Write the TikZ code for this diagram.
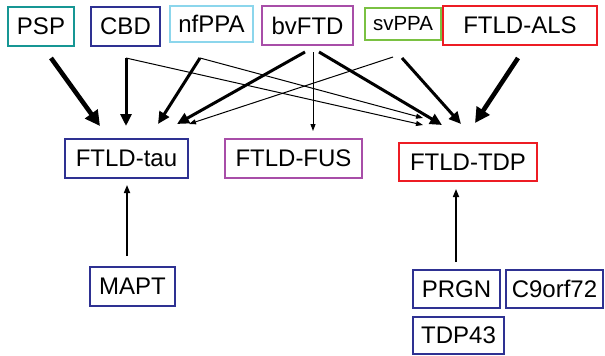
\documentclass[tikz,border=0pt]{standalone}
\usepackage{fontspec}
\setmainfont{Liberation Sans}
\usetikzlibrary{arrows.meta}

\definecolor{tealc}{RGB}{22,150,148}
\definecolor{bluec}{RGB}{46,49,146}
\definecolor{skyc}{RGB}{140,214,236}
\definecolor{purplec}{RGB}{168,78,168}
\definecolor{greenc}{RGB}{122,193,66}
\definecolor{redc}{RGB}{237,28,36}

\tikzset{
  box/.style={draw, line width=2pt, fill=white, inner sep=0pt, text=black,
    font=\fontsize{24}{28}\selectfont},
  heavy/.style={line width=4.6pt, -{Triangle[length=15pt,width=15pt]}},
  medium/.style={line width=3pt, -{Triangle[length=12pt,width=11pt]}},
  light/.style={line width=1pt, -{Triangle[length=7pt,width=5pt]}},
  upward/.style={line width=1.6pt, -{Triangle[length=8pt,width=6pt]}},
}

\begin{document}
\begin{tikzpicture}[x=1pt,y=-1pt]
\useasboundingbox (0,0) rectangle (605,356);

% clinical syndromes (top row)
\node[box, draw=tealc,   minimum width=66pt,  minimum height=39pt] (psp)  at (41,26.5)   {PSP};
\node[box, draw=bluec,   minimum width=69pt,  minimum height=39pt] (cbd)  at (125.5,26.5) {CBD};
\node[box, draw=skyc,    minimum width=83pt,  minimum height=36pt] (nfppa) at (211.5,24)  {nfPPA};
\node[box, draw=purplec, minimum width=91pt,  minimum height=39pt] (bvftd) at (307.5,25.5) {bvFTD};
\node[box, draw=greenc,  minimum width=76pt,  minimum height=32pt,
      font=\fontsize{20.5}{24}\selectfont] (svppa) at (403,24) {svPPA};
\node[box, draw=redc,    minimum width=154pt, minimum height=39pt] (als)  at (520,25.5)  {FTLD-ALS};

% pathologies (middle row)
\node[box, draw=bluec,   minimum width=123pt, minimum height=39pt] (tau) at (126.5,158.5) {FTLD-tau};
\node[box, draw=purplec, minimum width=137pt, minimum height=39pt] (fus) at (293.5,158.5) {FTLD-FUS};
\node[box, draw=redc,    minimum width=138pt, minimum height=38pt] (tdp) at (468,162)     {FTLD-TDP};

% genes (bottom)
\node[box, draw=bluec, minimum width=85pt, minimum height=39pt] (mapt)  at (132.5,286.5) {MAPT};
\node[box, draw=bluec, minimum width=87pt, minimum height=38pt] (prgn)  at (456.5,289)   {PRGN};
\node[box, draw=bluec, minimum width=97pt, minimum height=38pt] (c9)    at (554.5,289)   {C9orf72};
\node[box, draw=bluec, minimum width=91pt, minimum height=37pt] (tdp43) at (458.5,335.5)  {TDP43};

% connector end points
\coordinate (psp-o)   at (51,58);
\coordinate (cbd-o)   at (126,58);
\coordinate (nfppa-o) at (200,58);
\coordinate (bv-l)    at (305,52);
\coordinate (bv-m)    at (313,52);
\coordinate (bv-r)    at (319,52);
\coordinate (sv-l)    at (393,57);
\coordinate (sv-r)    at (402,58);
\coordinate (als-o)   at (518,58);
\coordinate (tau-1)   at (100,126);
\coordinate (tau-2)   at (126,126);
\coordinate (tau-3)   at (158,124);
\coordinate (tau-4)   at (177,124);
\coordinate (tau-5)   at (189,124);
\coordinate (fus-1)   at (313,131);
\coordinate (tdp-1)   at (423,118);
\coordinate (tdp-2)   at (423,125);
\coordinate (tdp-3)   at (442,125);
\coordinate (tdp-4)   at (461,124);
\coordinate (tdp-5)   at (475,123);
\coordinate (mapt-o)  at (127,256);
\coordinate (tau-b)   at (127,185);
\coordinate (prgn-o)  at (456,262);
\coordinate (tdp-b)   at (456,189);

% syndrome -> pathology
\draw[heavy]  (psp-o)   -- (tau-1);
\draw[medium] (cbd-o)   -- (tau-2);
\draw[light]  (cbd-o)   -- (tdp-2);
\draw[medium] (nfppa-o) -- (tau-3);
\draw[light]  (nfppa-o) -- (tdp-1);
\draw[medium] (bv-l)    -- (tau-4);
\draw[light]  (bv-m)    -- (fus-1);
\draw[medium] (bv-r)    -- (tdp-3);
\draw[light]  (sv-l)    -- (tau-5);
\draw[medium] (sv-r)    -- (tdp-4);
\draw[heavy]  (als-o)   -- (tdp-5);

% gene -> pathology
\draw[upward] (mapt-o) -- (tau-b);
\draw[upward] (prgn-o) -- (tdp-b);
\end{tikzpicture}
\end{document}
